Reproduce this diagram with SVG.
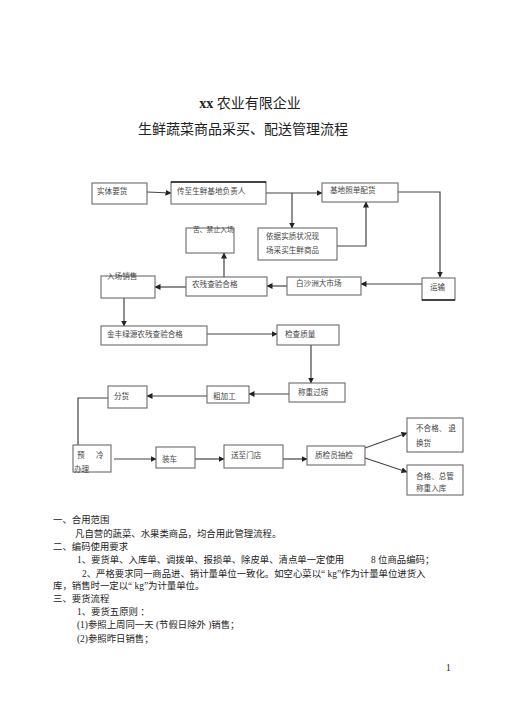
<svg xmlns="http://www.w3.org/2000/svg" width="505" height="714" viewBox="0 0 505 714">
<defs>
<marker id="ah" markerWidth="6" markerHeight="6" refX="5.5" refY="3" orient="auto" markerUnits="userSpaceOnUse">
<path d="M0,0 L6,3 L0,6 z" fill="#222"/>
</marker>
<style>
.box{fill:#fff;stroke:#6a6a6a;stroke-width:1.1}
.nt{font-family:"Liberation Serif","Noto Sans CJK SC",serif;font-size:7.6px;fill:#444}
.sm{font-size:6.8px}
.c{fill:none;stroke:#444;stroke-width:1.2}
.ca{fill:none;stroke:#444;stroke-width:1.2;marker-end:url(#ah)}
.t{font-family:"Liberation Serif","Noto Sans CJK SC",serif;fill:#222}
.b{font-family:"Liberation Serif","Noto Sans CJK SC",serif;font-size:9.4px;fill:#222}
</style>
</defs>
<rect width="505" height="714" fill="#fff"/>
<text class="t" x="250" y="108" font-size="14" text-anchor="middle"><tspan font-weight="bold">xx</tspan> 农业有限企业</text>
<text class="t" x="243" y="134" font-size="14" text-anchor="middle">生鲜蔬菜商品采买、配送管理流程</text>

<g id="connectors">
<path class="ca" d="M147,192 L171,193"/>
<path class="ca" d="M266,193 H322"/>
<path class="ca" d="M292,193 V228"/>
<path class="ca" d="M337,246 H366 V202"/>
<path class="ca" d="M398,192 H440 V277"/>
<path class="ca" d="M422,284 H361"/>
<path class="ca" d="M287,286 H267"/>
<path class="ca" d="M186,287 H155"/>
<path class="ca" d="M224,277 V253"/>
<path class="ca" d="M124,298 V326"/>
<path class="ca" d="M207,334 H277"/>
<path class="ca" d="M311,345 V383"/>
<path class="ca" d="M289,394 H249"/>
<path class="ca" d="M207,396 H147"/>
<path class="c" d="M108,398 H78 V445"/>
<path class="ca" d="M114,459 H156"/>
<path class="ca" d="M195,459 H224"/>
<path class="ca" d="M283,459 H307"/>
<path class="ca" d="M365,448 L407,433"/>
<path class="ca" d="M365,458 L407,472"/>
</g>

<g id="n1"><rect class="box" x="92" y="183" width="55" height="21"/><text class="nt" x="97" y="194">实体要货</text></g>
<g id="n2"><rect class="box" x="171" y="182" width="95" height="22"/><line x1="171" y1="182" x2="266" y2="182" stroke="#222" stroke-width="1.3"/><text class="nt" x="177" y="194">传至生鲜基地负责人</text></g>
<g id="n3"><rect class="box" x="322" y="183" width="76" height="19"/><text class="nt" x="330" y="193">基地照单配货</text></g>
<g id="n4"><rect class="box" x="258" y="228" width="79" height="32"/><text class="nt" x="266" y="239">依据实质状况现</text><text class="nt" x="266" y="253">场采买生鲜商品</text></g>
<g id="n5"><rect class="box" x="186" y="228" width="48" height="25"/><text class="nt sm" x="193" y="232">苦、禁止入场</text></g>
<g id="n6"><rect class="box" x="101" y="276" width="54" height="22"/><text class="nt" x="107" y="279">入场销售</text></g>
<g id="n7"><rect class="box" x="186" y="277" width="81" height="19"/><text class="nt" x="192" y="287">农残查验合格</text></g>
<g id="n8"><rect class="box" x="287" y="277" width="74" height="18"/><text class="nt" x="296" y="286">白沙洲大市场</text></g>
<g id="n9"><rect class="box" x="422" y="278" width="33" height="22"/><line x1="422" y1="300" x2="455" y2="300" stroke="#222" stroke-width="1.3"/><text class="nt" x="430" y="290">运输</text></g>
<g id="n10"><rect class="box" x="101" y="326" width="106" height="19"/><text class="nt" x="107" y="337">金丰绿源农残查验合格</text></g>
<g id="n11"><rect class="box" x="277" y="325" width="62" height="20"/><text class="nt" x="285" y="337">检查质量</text></g>
<g id="n12"><rect class="box" x="289" y="383" width="56" height="19"/><text class="nt" x="298" y="395">称重过磅</text></g>
<g id="n13"><rect class="box" x="207" y="386" width="42" height="17"/><text class="nt" x="213" y="399">粗加工</text></g>
<g id="n14"><rect class="box" x="108" y="386" width="39" height="22"/><text class="nt" x="114" y="399">分货</text></g>
<g id="n15"><rect class="box" x="73" y="445" width="38" height="27"/><text class="nt" x="77" y="458">预</text><text class="nt" x="96" y="458">冷</text><text class="nt" x="74" y="472">办理</text></g>
<g id="n16"><rect class="box" x="156" y="447" width="39" height="21"/><text class="nt" x="162" y="462">装车</text></g>
<g id="n17"><rect class="box" x="224" y="445" width="59" height="23"/><text class="nt" x="231" y="458">送至门店</text></g>
<g id="n18"><rect class="box" x="307" y="446" width="58" height="19"/><text class="nt" x="315" y="458">质检员抽检</text></g>
<g id="n19"><rect class="box" x="407" y="418" width="56" height="34"/><text class="nt" x="416" y="431">不合格、 退</text><text class="nt" x="416" y="446">换货</text></g>
<g id="n20"><rect class="box" x="407" y="465" width="56" height="30"/><text class="nt" x="416" y="479">合格、总管</text><text class="nt" x="416" y="491">称重入库</text></g>

<g id="body">
<text class="b" x="53" y="523">一、合用范围</text>
<text class="b" x="75" y="537">凡自营的蔬菜、水果类商品，均合用此管理流程。</text>
<text class="b" x="53" y="550">二、编码使用要求</text>
<text class="b" x="77" y="563">1、要货单、入库单、调拨单、报损单、除皮单、清点单一定使用<tspan x="371">8 位商品编码；</tspan></text>
<text class="b" x="82" y="577">2、严格要求同一商品进、销计量单位一致化。如空心菜以“ kg”作为计量单位进货入</text>
<text class="b" x="53" y="589">库，销售时一定以“ kg”为计量单位。</text>
<text class="b" x="53" y="602">三、要货流程</text>
<text class="b" x="77" y="615">1、要货五原则 ：</text>
<text class="b" x="77" y="628">(1)参照上周同一天 (节假日除外 )销售；</text>
<text class="b" x="77" y="642">(2)参照昨日销售；</text>
<text class="b" x="446" y="671" font-size="7">1</text>
</g>
</svg>
